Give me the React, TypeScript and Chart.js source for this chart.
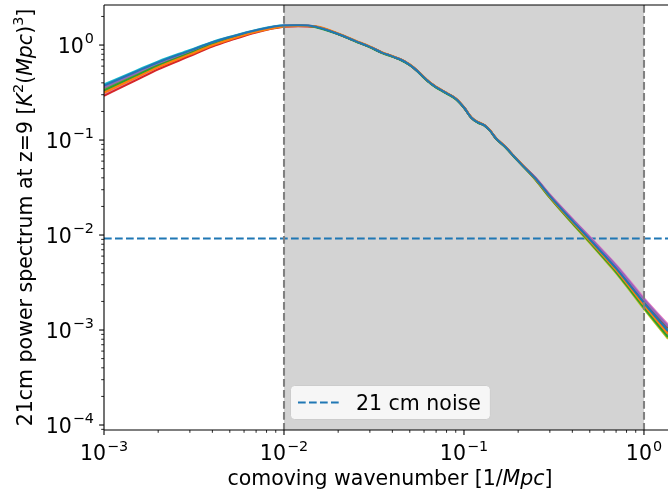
import React, { useEffect, useRef } from 'react';
import { Chart, registerables } from 'chart.js';
Chart.register(...registerables);

// comoving wavenumber k [1/Mpc]
const kValues = [0.001, 0.0015, 0.002, 0.003, 0.004, 0.005, 0.007, 0.01, 0.012,
  0.015, 0.02, 0.025, 0.03, 0.035, 0.04, 0.045, 0.05, 0.055, 0.06, 0.065, 0.07, 0.08, 0.09, 0.1,
  0.11, 0.12, 0.13, 0.14, 0.15, 0.17, 0.19, 0.21,
  0.25, 0.3, 0.4, 0.5, 0.6, 0.7, 0.85, 1.0, 1.36];

const blue = [0.374, 0.523, 0.660, 0.874, 1.068, 1.212, 1.434, 1.609, 1.615,
  1.56, 1.31, 1.10, 0.957, 0.832, 0.760, 0.695, 0.619, 0.535, 0.455, 0.398, 0.361, 0.312, 0.272, 0.220, 0.172, 0.153, 0.143, 0.125, 0.105, 0.0843, 0.067, 0.0548,
  0.0391, 0.0257, 0.01408, 0.00897, 0.00616, 0.00445, 0.00283, 0.001925, 0.000977];
const orange = [0.315, 0.453, 0.585, 0.797, 0.994, 1.144, 1.381, 1.572, 1.592,
  1.576, 1.323, 1.111, 0.967, 0.840, 0.768, 0.702, 0.625, 0.540, 0.460, 0.402, 0.365, 0.315, 0.275, 0.222, 0.174, 0.155, 0.144, 0.126, 0.106, 0.0851, 0.0677, 0.0553,
  0.0387, 0.0253, 0.01375, 0.00870, 0.00594, 0.00427, 0.00270, 0.001826, 0.000911];
const green = [0.333, 0.474, 0.608, 0.821, 1.017, 1.165, 1.398, 1.583, 1.599,
  1.544, 1.297, 1.089, 0.947, 0.824, 0.752, 0.688, 0.613, 0.530, 0.450, 0.394, 0.357, 0.309, 0.269, 0.218, 0.170, 0.151, 0.142, 0.124, 0.104, 0.0835, 0.0663, 0.0543,
  0.0382, 0.0248, 0.01338, 0.00841, 0.00570, 0.00408, 0.00256, 0.001721, 0.000843];
const red = [0.292, 0.425, 0.555, 0.766, 0.963, 1.115, 1.359, 1.556, 1.582,
  1.56, 1.31, 1.10, 0.957, 0.832, 0.760, 0.695, 0.619, 0.535, 0.455, 0.398, 0.361, 0.312, 0.272, 0.220, 0.172, 0.153, 0.143, 0.125, 0.105, 0.0843, 0.067, 0.0548,
  0.0389, 0.0255, 0.01392, 0.00883, 0.00605, 0.00436, 0.00277, 0.001875, 0.000943];
const purple = [0.361, 0.508, 0.645, 0.858, 1.053, 1.198, 1.423, 1.601, 1.610,
  1.56, 1.31, 1.10, 0.957, 0.832, 0.760, 0.695, 0.619, 0.535, 0.455, 0.398, 0.361, 0.312, 0.272, 0.220, 0.172, 0.153, 0.143, 0.125, 0.105, 0.0843, 0.067, 0.0548,
  0.0399, 0.0264, 0.01464, 0.00942, 0.00653, 0.00475, 0.00306, 0.002097, 0.001093];
const brown = [0.324, 0.464, 0.596, 0.809, 1.005, 1.155, 1.390, 1.578, 1.595,
  1.56, 1.31, 1.10, 0.957, 0.832, 0.760, 0.695, 0.619, 0.535, 0.455, 0.398, 0.361, 0.312, 0.272, 0.220, 0.172, 0.153, 0.143, 0.125, 0.105, 0.0843, 0.067, 0.0548,
  0.0396, 0.0261, 0.01442, 0.00925, 0.00638, 0.00463, 0.00297, 0.002029, 0.001046];
const pink = [0.304, 0.440, 0.571, 0.783, 0.980, 1.131, 1.371, 1.565, 1.587,
  1.56, 1.31, 1.10, 0.957, 0.832, 0.760, 0.695, 0.619, 0.535, 0.455, 0.398, 0.361, 0.312, 0.272, 0.220, 0.172, 0.153, 0.143, 0.125, 0.105, 0.0843, 0.067, 0.0548,
  0.0402, 0.0267, 0.01487, 0.00960, 0.00667, 0.00487, 0.00315, 0.002166, 0.001141];
const gray = [0.352, 0.497, 0.632, 0.845, 1.041, 1.187, 1.415, 1.595, 1.606,
  1.56, 1.31, 1.10, 0.957, 0.832, 0.760, 0.695, 0.619, 0.535, 0.455, 0.398, 0.361, 0.312, 0.272, 0.220, 0.172, 0.153, 0.143, 0.125, 0.105, 0.0843, 0.067, 0.0548,
  0.0385, 0.0251, 0.01358, 0.00857, 0.00583, 0.00418, 0.00264, 0.001778, 0.000881];
const olive = [0.342, 0.485, 0.620, 0.833, 1.029, 1.176, 1.406, 1.590, 1.603,
  1.56, 1.31, 1.10, 0.957, 0.832, 0.760, 0.695, 0.619, 0.535, 0.455, 0.398, 0.361, 0.312, 0.272, 0.220, 0.172, 0.153, 0.143, 0.125, 0.105, 0.0843, 0.067, 0.0548,
  0.0379, 0.0246, 0.01319, 0.00825, 0.00558, 0.00398, 0.00249, 0.001666, 0.000807];
const cyan = [0.385, 0.535, 0.673, 0.887, 1.080, 1.223, 1.442, 1.615, 1.619,
  1.56, 1.31, 1.10, 0.957, 0.832, 0.760, 0.695, 0.619, 0.535, 0.455, 0.398, 0.361, 0.312, 0.272, 0.220, 0.172, 0.153, 0.143, 0.125, 0.105, 0.0843, 0.067, 0.0548,
  0.0393, 0.0259, 0.01425, 0.00910, 0.00627, 0.00454, 0.00290, 0.001976, 0.001011];

const seriesList = [blue, orange, green, red, purple, brown, pink, gray, olive, cyan];
const seriesColors = ['#1f77b4', '#ff7f0e', '#2ca02c', '#d62728', '#9467bd', '#8c564b', '#e377c2', '#7f7f7f', '#bcbd22', '#17becf'];

const noiseLevel = 0.0092;
const noiseLabel = '21 cm noise';
const shadeRange = [0.01, 1.0];
const xRange = [0.001, 1.36];
const yRange = [8.86e-5, 2.64];
const xTickDecades = [-3, -2, -1, 0];
const yTickDecades = [-4, -3, -2, -1, 0];
const minorMultipliers = [2, 3, 4, 5, 6, 7, 8, 9];

const FONT = '"DejaVu Sans", Verdana, sans-serif';
const FS = 20.5;
const DASH = [7.7, 3.3];

function expText(e: number) {
  return e < 0 ? '\u2212' + Math.abs(e) : String(e);
}

function drawPow(ctx: CanvasRenderingContext2D, e: number, x: number, baseline: number, align: 'center' | 'right') {
  ctx.font = `${FS}px ${FONT}`;
  const w1 = ctx.measureText('10').width;
  ctx.font = `${FS * 0.7}px ${FONT}`;
  const es = expText(e);
  const w2 = ctx.measureText(es).width;
  const total = w1 + w2 + 1;
  const sx = align === 'center' ? x - total / 2 : x - total;
  ctx.textAlign = 'left';
  ctx.textBaseline = 'alphabetic';
  ctx.font = `${FS}px ${FONT}`;
  ctx.fillText('10', sx, baseline);
  ctx.font = `${FS * 0.7}px ${FONT}`;
  ctx.fillText(es, sx + w1 + 1, baseline - FS * 0.45);
}

type Seg = { t: string; it?: boolean; sup?: boolean };
function drawSegs(ctx: CanvasRenderingContext2D, segs: Seg[], cx: number, baseline: number) {
  const fontFor = (s: Seg) => `${s.it ? 'italic ' : ''}${s.sup ? FS * 0.7 : FS}px ${FONT}`;
  let total = 0;
  const widths = segs.map((s) => { ctx.font = fontFor(s); const w = ctx.measureText(s.t).width; total += w; return w; });
  let x = cx - total / 2;
  ctx.textAlign = 'left';
  ctx.textBaseline = 'alphabetic';
  segs.forEach((s, i) => {
    ctx.font = fontFor(s);
    ctx.fillText(s.t, x, s.sup ? baseline - FS * 0.45 : baseline);
    x += widths[i];
  });
}

const decorPlugin = {
  id: 'decor',
  beforeDatasetsDraw(chart: any) {
    const { ctx, chartArea } = chart;
    const xs = chart.scales.x;
    const x0 = xs.getPixelForValue(shadeRange[0]);
    const x1 = xs.getPixelForValue(shadeRange[1]);
    ctx.save();
    ctx.fillStyle = '#d3d3d3';
    ctx.fillRect(x0, chartArea.top, x1 - x0, chartArea.bottom - chartArea.top);
    ctx.restore();
  },
  afterDatasetsDraw(chart: any) {
    const { ctx, chartArea } = chart;
    const xs = chart.scales.x;
    ctx.save();
    ctx.beginPath();
    ctx.rect(chartArea.left, chartArea.top, chartArea.right - chartArea.left, chartArea.bottom - chartArea.top);
    ctx.clip();
    ctx.strokeStyle = '#808080';
    ctx.lineWidth = 2.08;
    ctx.setLineDash(DASH);
    shadeRange.forEach((v) => {
      const px = Math.round(xs.getPixelForValue(v));
      ctx.beginPath();
      ctx.moveTo(px, chartArea.top);
      ctx.lineTo(px, chartArea.bottom);
      ctx.stroke();
    });
    ctx.restore();
  },
  afterDraw(chart: any) {
    const { ctx, chartArea } = chart;
    const xs = chart.scales.x;
    const ys = chart.scales.y;
    const L = chartArea.left, R = chartArea.right, T = chartArea.top, B = chartArea.bottom;
    ctx.save();
    // legend
    const lx = xs.getPixelForValue(shadeRange[0]) + 6;
    const ly = B - 45;
    ctx.font = `${FS}px ${FONT}`;
    const tw = ctx.measureText(noiseLabel).width;
    const lw = 67 + tw + 8;
    const lh = 34;
    ctx.beginPath();
    (ctx as any).roundRect(lx + 0.5, ly + 0.5, lw, lh, 4);
    ctx.fillStyle = 'rgba(255,255,255,0.8)';
    ctx.fill();
    ctx.strokeStyle = '#cccccc';
    ctx.lineWidth = 1;
    ctx.stroke();
    ctx.beginPath();
    ctx.setLineDash(DASH);
    ctx.strokeStyle = '#1f77b4';
    ctx.lineWidth = 2.08;
    ctx.moveTo(lx + 8, ly + lh / 2 + 0.5);
    ctx.lineTo(lx + 50, ly + lh / 2 + 0.5);
    ctx.stroke();
    ctx.setLineDash([]);
    ctx.fillStyle = '#000';
    ctx.textAlign = 'left';
    ctx.textBaseline = 'alphabetic';
    ctx.fillText(noiseLabel, lx + 66, ly + lh / 2 + 7.5);

    // spines
    ctx.strokeStyle = '#000';
    ctx.lineWidth = 1.1;
    ctx.beginPath();
    ctx.moveTo(L, T); ctx.lineTo(R, T);
    ctx.moveTo(L, T); ctx.lineTo(L, B);
    ctx.moveTo(L, B); ctx.lineTo(R, B);
    ctx.stroke();

    // ticks
    const tickX = (v: number, len: number, w: number) => {
      const px = xs.getPixelForValue(v);
      if (px < L - 0.5 || px > R + 0.5) return;
      ctx.lineWidth = w;
      ctx.beginPath(); ctx.moveTo(px, B); ctx.lineTo(px, B + len); ctx.stroke();
    };
    const tickY = (v: number, len: number, w: number) => {
      const py = ys.getPixelForValue(v);
      if (py < T - 0.5 || py > B + 0.5) return;
      ctx.lineWidth = w;
      ctx.beginPath(); ctx.moveTo(L, py); ctx.lineTo(L - len, py); ctx.stroke();
    };
    for (let d = -4; d <= 0; d++) {
      minorMultipliers.forEach((m) => { tickX(m * Math.pow(10, d), 2.8, 0.85); });
    }
    for (let d = -5; d <= 0; d++) {
      minorMultipliers.forEach((m) => { tickY(m * Math.pow(10, d), 2.8, 0.85); });
    }
    xTickDecades.forEach((d) => tickX(Math.pow(10, d), 4.9, 1.1));
    yTickDecades.forEach((d) => tickY(Math.pow(10, d), 4.9, 1.1));

    // tick labels
    ctx.fillStyle = '#000';
    xTickDecades.forEach((d) => drawPow(ctx, d, xs.getPixelForValue(Math.pow(10, d)), B + 30, 'center'));
    yTickDecades.forEach((d) => drawPow(ctx, d, L - 10, ys.getPixelForValue(Math.pow(10, d)) + 7.5, 'right'));

    // axis titles
    drawSegs(ctx, [{ t: 'comoving wavenumber [1/' }, { t: 'Mpc', it: true }, { t: ']' }], L + (R - L + 8) / 2, B + 55);
    ctx.save();
    ctx.translate(32, (T + B) / 2);
    ctx.rotate(-Math.PI / 2);
    drawSegs(ctx, [
      { t: '21cm power spectrum at z=9 [' }, { t: 'K', it: true }, { t: '2', sup: true },
      { t: '(' }, { t: 'Mpc', it: true }, { t: ')' }, { t: '3', sup: true }, { t: ']' },
    ], 0, 0);
    ctx.restore();
    ctx.restore();
  },
};

export default function App() {
  const ref = useRef<HTMLCanvasElement | null>(null);
  useEffect(() => {
    if (!ref.current) return;
    const datasets: any[] = seriesList.map((arr, i) => ({
      data: kValues.map((k, j) => ({ x: k, y: arr[j] })),
      borderColor: seriesColors[i],
      borderWidth: 2.08,
      pointRadius: 0,
      fill: false,
      cubicInterpolationMode: 'monotone',
    }));
    datasets.push({
      label: noiseLabel,
      data: [{ x: xRange[0], y: noiseLevel }, { x: xRange[1], y: noiseLevel }],
      borderColor: '#1f77b4',
      borderWidth: 2.08,
      borderDash: DASH,
      pointRadius: 0,
      fill: false,
    });
    const chart = new Chart(ref.current, {
      type: 'line',
      data: { datasets },
      plugins: [decorPlugin],
      options: {
        animation: false,
        responsive: false,
        layout: { padding: { top: 5, left: 0, right: 0, bottom: 0 } },
        plugins: { legend: { display: false }, tooltip: { enabled: false } },
        scales: {
          x: {
            type: 'logarithmic', min: xRange[0], max: xRange[1],
            ticks: { display: false }, grid: { display: false }, border: { display: false },
            afterFit: (s: any) => { s.height = 65; },
          },
          y: {
            type: 'logarithmic', min: yRange[0], max: yRange[1],
            ticks: { display: false }, grid: { display: false }, border: { display: false },
            afterFit: (s: any) => { s.width = 104; },
          },
        },
      } as any,
    });
    return () => chart.destroy();
  }, []);
  return (
    <div style={{ position: 'fixed', left: 0, top: 0, width: 668, height: 495, background: '#fff' }}>
      <canvas ref={ref} width={668} height={495} style={{ display: 'block' }} />
    </div>
  );
}
